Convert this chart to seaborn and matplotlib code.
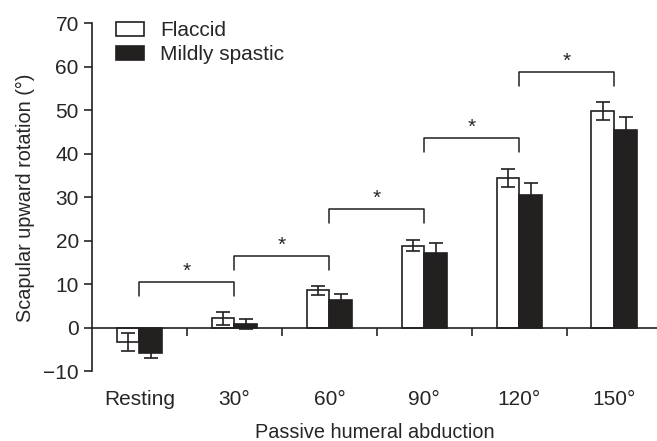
import matplotlib
matplotlib.use('Agg')
import numpy as np
import pandas as pd
import seaborn as sns
import matplotlib.pyplot as plt

categories = ['Resting', '30°', '60°', '90°', '120°', '150°']
groups = ['Flaccid', 'Mildly spastic']
flaccid_mean = [-3.3, 2.2, 8.6, 18.9, 34.4, 49.8]
flaccid_sd = [2.1, 1.5, 1.1, 1.2, 2.1, 2.1]
spastic_mean = [-5.8, 0.9, 6.5, 17.2, 30.5, 45.5]
spastic_sd = [1.1, 1.2, 1.3, 2.2, 2.8, 3.0]
bracket_tops = [10.6, 16.6, 27.3, 43.7, 58.9]
bracket_leg = 3.2

df = pd.DataFrame({
    'angle': categories * 2,
    'group': [groups[0]] * 6 + [groups[1]] * 6,
    'value': flaccid_mean + spastic_mean,
    'sd': flaccid_sd + spastic_sd,
})

sns.set_style('ticks')
plt.rcParams['font.family'] = ['Liberation Sans', 'DejaVu Sans']

fig = plt.figure(figsize=(6.57, 4.41), dpi=100)
ax = fig.add_axes([0.140, 0.158, 0.860, 0.789])

sns.barplot(data=df, x='angle', y='value', hue='group', order=categories,
            hue_order=groups, palette=['white', '#231f20'], width=0.48,
            edgecolor='#231f20', linewidth=1.2, errorbar=None, ax=ax)

# error bars at bar centres
for cont, g in zip(ax.containers, groups):
    sub = df[df['group'] == g]
    xs = [p.get_x() + p.get_width() / 2 for p in cont]
    ax.errorbar(xs, sub['value'], yerr=sub['sd'], fmt='none',
                ecolor='#231f20', elinewidth=1.2, capsize=5, capthick=1.2)

# significance brackets between neighbouring angles
for i, top in enumerate(bracket_tops):
    ax.plot([i, i, i + 1, i + 1], [top - bracket_leg, top, top, top - bracket_leg],
            color='#231f20', lw=1.1)
    ax.text(i + 0.5, top + 0.2, '*', ha='center', va='bottom', fontsize=15)

ax.set_xlim(-0.5, 5.45)
ax.set_ylim(-10, 70)
ax.set_yticks(range(-10, 71, 10))
ax.set_yticklabels(['\u221210'] + [str(v) for v in range(0, 71, 10)])

ax.spines['bottom'].set_position(('data', 0))
ax.spines['right'].set_visible(False)
ax.spines['top'].set_visible(False)
for s in ['left', 'bottom']:
    ax.spines[s].set_linewidth(1.2)
    ax.spines[s].set_color('#231f20')

ax.set_xticks(range(len(categories)))
ax.set_xticklabels(categories)
ax.set_xticks([0.5, 1.5, 2.5, 3.5, 4.5], minor=True)
ax.tick_params(axis='x', which='major', length=0, pad=45, labelsize=15)
ax.tick_params(axis='x', which='minor', length=6, width=1.2, direction='out')
ax.tick_params(axis='y', length=6, width=1.2, labelsize=15)

ax.set_xlabel('Passive humeral abduction', fontsize=14.3, labelpad=10)
ax.set_ylabel('Scapular upward rotation (°)', fontsize=14.3, labelpad=6)

leg = ax.legend(loc='upper left', bbox_to_anchor=(0.027, 1.03), frameon=False,
                borderaxespad=0, fontsize=15, handlelength=1.35,
                handleheight=0.7, handletextpad=0.8, labelspacing=0.25)

fig.savefig('out.png', dpi=100)
